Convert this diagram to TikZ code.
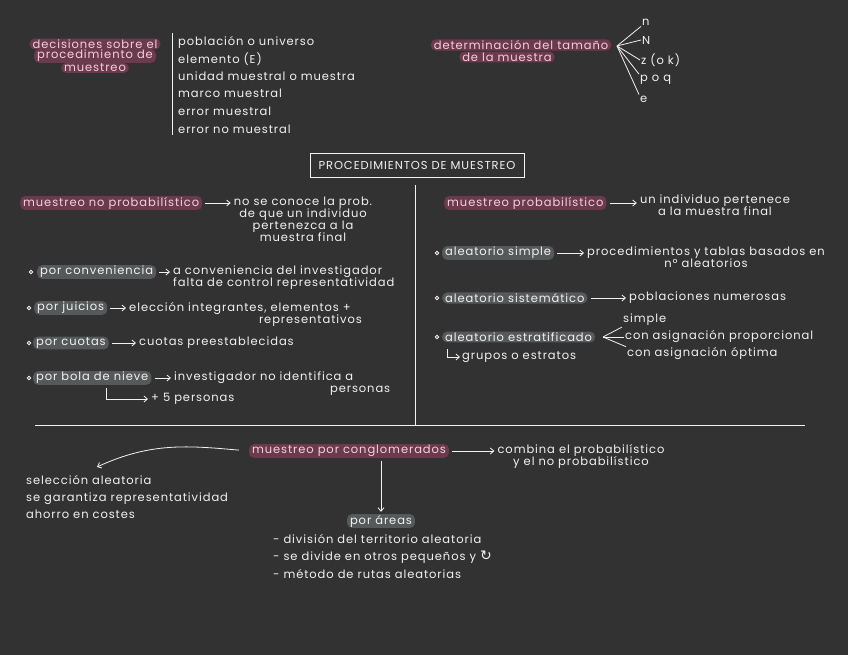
\documentclass[tikz,border=0pt]{standalone}
\usepackage{fontspec}
\usetikzlibrary{arrows.meta}
\newfontfamily\hwfam[LetterSpace=8]{Poppins}
\newfontfamily\symfam{DejaVu Sans}
\newcommand{\hw}{\hwfam\fontsize{11.5}{12}\selectfont}
\definecolor{bgc}{HTML}{323232}
\definecolor{pinkbg}{HTML}{6B3A4C}
\definecolor{pinktx}{HTML}{F5D0DC}
\definecolor{greybg}{HTML}{56595A}
\definecolor{ink}{HTML}{F2F2F2}
\tikzset{
  pk/.style={fill=pinkbg, text=pinktx, rounded corners=5pt, inner xsep=3pt, inner ysep=1pt, font=\hw},
  gy/.style={fill=greybg, text=ink, rounded corners=5pt, inner xsep=3pt, inner ysep=1pt, font=\hw},
  tx/.style={text=ink, inner sep=1pt, font=\hw},
  ln/.style={draw=ink, line width=0.8pt},
  ar/.style={draw=ink, line width=0.8pt, -{Straight Barb[length=3.5pt,width=6pt]}, shorten >=2pt, shorten <=3pt},
  bul/.style={circle, draw=ink, line width=0.8pt, inner sep=0pt, minimum size=3.5pt},
}
\begin{document}
\begin{tikzpicture}[x=1pt,y=-1pt]
\fill[bgc] (0,0) rectangle (848,655);
\useasboundingbox (0,0) rectangle (848,655);

% top left
\node[pk] (d1) at (95,44) {decisiones sobre el};
\node[pk] (d2) at (95,56) {procedimiento de};
\node[pk] (d3) at (95,68) {muestreo};
\coordinate (vt) at (172,33);
\coordinate (vb) at (172,135);
\draw[ln] (vt) -- (vb);
\node[tx, anchor=west] (l1) at (177,42) {población o universo};
\node[tx, anchor=west] (l2) at (177,59) {elemento (E)};
\node[tx, anchor=west] (l3) at (177,76) {unidad muestral o muestra};
\node[tx, anchor=west] (l4) at (177,93) {marco muestral};
\node[tx, anchor=west] (l5) at (177,111) {error muestral};
\node[tx, anchor=west] (l6) at (177,129) {error no muestral};

% top right
\node[pk] (t1) at (521,45) {determinación del tamaño};
\node[pk] (t2) at (507,57) {de la muestra};
\coordinate (fan) at (617,46);
\node[tx, anchor=west] (fn) at (641,22) {n};
\node[tx, anchor=west] (fN) at (641,40) {N};
\node[tx, anchor=west] (fz) at (640,60) {z (o k)};
\node[tx, anchor=west] (fp) at (639,80) {p o q};
\node[tx, anchor=west] (fe) at (639,99) {e};
\draw[ln] (fan) -- (fn.south west);
\draw[ln] (fan) -- (fN.west);
\draw[ln] (fan) -- (fz.west);
\draw[ln] (fan) -- (fp.north west);
\draw[ln] (fan) -- (fe.north west);

% title box
\node[draw=ink, line width=0.8pt, text=ink, font=\hw, minimum width=214pt, minimum height=24pt, inner xsep=2pt] (proc) at (417,165) {PROCEDIMIENTOS DE MUESTREO};

% dividers
\coordinate (dvt) at (415,185);
\coordinate (dvb) at (415,425);
\coordinate (hl) at (35,425);
\coordinate (hr) at (805,425);
\draw[ln] (dvt) -- (dvb);
\draw[ln] (hl) -- (hr);

% left column
\node[pk, anchor=west] (mnp) at (20,203) {muestreo no probabilístico};
\node[tx, align=center, anchor=north] (nsc) at (303,196) {no se conoce la prob.\\de que un individuo\\pertenezca a la\\muestra final};
\draw[ar] (mnp.east) -- (mnp.east -| nsc.west);

\node[bul] (b1) at (31,272) {};
\node[gy, anchor=west] (g1) at (37,272) {por conveniencia};
\node[tx, align=left, anchor=north west] (c1) at (172,265) {a conveniencia del investigador\\falta de control representatividad};
\draw[ar] (g1.east) -- (g1.east -| c1.west);

\node[bul] (b2) at (29,308) {};
\node[gy, anchor=west] (g2) at (34,308) {por juicios};
\node[tx, align=right, anchor=north west] (c2) at (128,301) {elección integrantes, elementos +\\representativos\hspace*{-11pt}};
\draw[ar] (g2.east) -- (g2.east -| c2.west);

\node[bul] (b3) at (29,343) {};
\node[gy, anchor=west] (g3) at (33,343) {por cuotas};
\node[tx, anchor=west] (c3) at (138,343) {cuotas preestablecidas};
\draw[ar] (g3.east) -- (c3.west);

\node[bul] (b4) at (29,378) {};
\node[gy, anchor=west] (g4) at (33,378) {por bola de nieve};
\node[tx, align=right, anchor=north west] (c4) at (173,371) {investigador no identifica a\\personas\hspace*{-37pt}};
\draw[ar] (g4.east) -- (g4.east -| c4.west);
\coordinate (elb) at (106,388);
\node[tx, anchor=west] (p5) at (150,399) {+ 5 personas};
\draw[ar, shorten <=0pt] (elb) |- (p5.west);

% right column
\node[pk, anchor=west] (mp) at (444,203) {muestreo probabilístico};
\node[tx, align=center, anchor=north] (ui) at (715,194) {un individuo pertenece\\a la muestra final};
\draw[ar] (mp.east) -- (mp.east -| ui.west);

\node[bul] (b5) at (437,253) {};
\node[gy, anchor=west] (g5) at (442,253) {aleatorio simple};
\node[tx, align=center, anchor=north west] (c5) at (586,246) {procedimientos y tablas basados en\\nº aleatorios};
\draw[ar] (g5.east) -- (g5.east -| c5.west);

\node[bul] (b6) at (437,298) {};
\node[gy, anchor=west] (g6) at (442,298) {aleatorio sistemático};
\node[tx, anchor=west] (c6) at (628,298) {poblaciones numerosas};
\draw[ar] (g6.east) -- (c6.west);

\node[bul] (b7) at (437,337) {};
\node[gy, anchor=west] (g7) at (442,337) {aleatorio estratificado};
\coordinate (sfan) at (603,337);
\node[tx, anchor=west] (s1) at (622,320) {simple};
\node[tx, anchor=west] (s2) at (624,337) {con asignación proporcional};
\node[tx, anchor=west] (s3) at (626,354) {con asignación óptima};
\draw[ln] (sfan) -- (s1.south west);
\draw[ln] (sfan) -- (s2.west);
\draw[ln] (sfan) -- (s3.north west);
\coordinate (hook) at (447,349);
\node[tx, anchor=west] (gr) at (461,357) {grupos o estratos};
\draw[ar, shorten <=0pt, shorten >=1pt] (hook) |- (gr.west);

% bottom
\node[pk] (mc) at (349,451) {muestreo por conglomerados};
\node[tx, align=center, anchor=north] (cb) at (581,443) {combina el probabilístico\\y el no probabilístico};
\draw[ar] (mc.east) -- (mc.east -| cb.west);

\coordinate (selarr) at (97,467);
\node[tx, align=left, anchor=north west, font=\hwfam\fontsize{11.5}{17}\selectfont] (sel) at (25,474) {selección aleatoria\\se garantiza representatividad\\ahorro en costes};
\draw[ar, shorten <=10pt, shorten >=0pt] (mc.west) to[out=175, in=25] (selarr);

\node[gy] (pa) at (381,521) {por áreas};
\draw[ar] (mc.south -| pa.north) -- (pa.north);
\node[tx, align=left, anchor=north west, font=\hwfam\fontsize{11.5}{17.5}\selectfont] (ar1) at (272,533) {- división del territorio aleatoria\\- se divide en otros pequeños y {\symfam\fontsize{14}{14}\selectfont ↻}\\- método de rutas aleatorias};
\end{tikzpicture}
\end{document}
